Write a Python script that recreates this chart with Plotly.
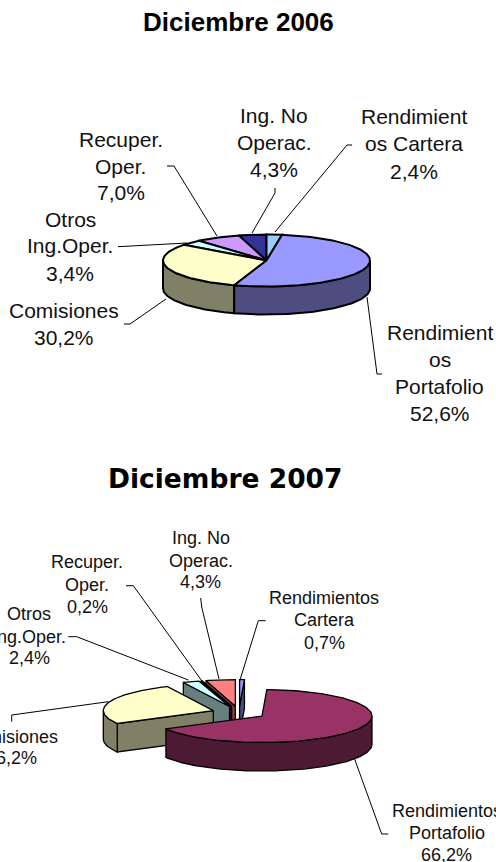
import math
import plotly.graph_objects as go

# ---- data (clockwise from 12 o'clock) ----
slices = ["Rendimientos Cartera", "Rendimientos Portafolio", "Comisiones",
          "Otros Ing.Oper.", "Recuper. Oper.", "Ing. No Operac."]
values_2006 = [2.4, 52.6, 30.2, 3.4, 7.0, 4.3]
values_2007 = [0.7, 66.2, 26.2, 2.4, 0.2, 4.3]
names_2006 = [["Rendimient", "os Cartera"], ["Rendimient", "os", "Portafolio"], ["Comisiones"],
              ["Otros", "Ing.Oper."], ["Recuper.", "Oper."], ["Ing. No", "Operac."]]
names_2007 = [["Rendimientos", "Cartera"], ["Rendimientos", "Portafolio"], ["Comisiones"],
              ["Otros", "Ing.Oper."], ["Recuper.", "Oper."], ["Ing. No", "Operac."]]
tops_2006 = ["#99CCFF", "#9999FF", "#FFFFCC", "#CCFFFF", "#CC99FF", "#333399"]
walls_2006 = ["#4D6680", "#4D4D80", "#808066", "#668080", "#664D80", "#1A1A4D"]
tops_2007 = ["#9999FF", "#993366", "#FFFFCC", "#CCFFFF", "#660066", "#FF8080"]
walls_2007 = ["#4D4D80", "#4D1A33", "#808066", "#668080", "#330033", "#804040"]
draw_order = [5, 4, 3, 0, 2, 1]

# ---- layout constants ----
W, H = 496, 862
TEXT = "#111111"
SANS = "Liberation Sans, Arial, sans-serif"
geom_2006 = dict(cx=266.5, cy=260.5, rx=103.5, ry=26.0, depth=28.0, explode=0.0, lw=2.0)
geom_2007 = dict(cx=239.0, cy=712.6, rx=110.0, ry=26.5, depth=28.5, explode=27.0, lw=1.3)

label_pos_2006 = [(414, [116.7, 143.7, 171.7]), (439.7, [332.7, 359.5, 386.7, 413.5]), (64.3, [310, 337]),
                  (70.3, [219, 245.7, 273]), (120.7, [139, 166, 192.7]), (274, [115, 142, 169])]
label_pos_2007 = [(324, [598, 620, 643]), (446.7, [811, 833, 855]), (11.3, [736.7, 758]),
                  (29.3, [614, 636.7, 658]), (87, [562, 585, 607]), (200.7, [538, 560.7, 582])]
leaders_2006 = [[(352, 145), (347, 145), (275, 232)], [(382, 374), (377, 374), (367, 297)],
                [(124, 324), (130, 324), (166, 299)], [(118, 246.7), (187, 243)],
                [(167, 166), (174, 166), (217, 236)], [(275, 188), (275, 193), (252, 233)]]
leaders_2007 = [[(265.7, 620.7), (258.3, 620.7), (240, 680)], [(388.3, 834), (381.7, 834), (354, 757.3)],
                [(11.7, 721.7), (11.7, 715), (108.3, 701.7)], [(68.3, 636.7), (76.7, 636.7), (188.3, 680)],
                [(126, 585.7), (133.3, 585.7), (201.7, 680.7)], [(200.7, 598), (201.7, 607), (219, 679)]]

fig = go.Figure()


def poly(pts, fill, lw):
    fig.add_trace(go.Scatter(x=[p[0] for p in pts], y=[p[1] for p in pts], mode="lines",
                             fill="toself", fillcolor=fill, line=dict(color="black", width=lw),
                             hoverinfo="skip", showlegend=False))


def wall(edge_pts, g, color):
    """Extrude the runs of an edge chain that face the viewer (moving leftwards on screen)."""
    run = []
    runs = []
    for a, b in zip(edge_pts, edge_pts[1:]):
        if b[0] - a[0] < -1e-9:
            if not run:
                run = [a]
            run.append(b)
        else:
            if run:
                runs.append(run)
            run = []
    if run:
        runs.append(run)
    for r in runs:
        pts = r + [(p[0], p[1] + g["depth"]) for p in reversed(r)] + [r[0]]
        poly(pts, color, g["lw"])


def pie(values, tops, walls, g):
    total = sum(values)
    start = 0.0
    spans = []
    for v in values:
        a0 = start / total * 2 * math.pi
        start += v
        a1 = start / total * 2 * math.pi
        spans.append((a0, a1))
    k = g["ry"] / g["rx"]
    for i in draw_order:
        a0, a1 = spans[i]
        mid = (a0 + a1) / 2
        ax = g["cx"] + g["explode"] * math.sin(mid)
        ay = g["cy"] - g["explode"] * math.cos(mid) * k
        n = max(2, int((a1 - a0) / math.radians(1.5)))
        arc = [(ax + g["rx"] * math.sin(a0 + (a1 - a0) * j / n),
                ay - g["ry"] * math.cos(a0 + (a1 - a0) * j / n)) for j in range(n + 1)]
        apex = (ax, ay)
        wall([apex, arc[0]], g, walls[i])
        wall(arc, g, walls[i])
        wall([arc[-1], apex], g, walls[i])
        poly([apex] + arc + [apex], tops[i], g["lw"])


def labels(values, names, pos, size):
    for v, nm, (x, ys) in zip(values, names, pos):
        lines = nm + [f"{v:.1f}".replace(".", ",") + "%"]
        for line, y in zip(lines, ys):
            fig.add_annotation(x=x, y=y, xref="x", yref="y", text=line, showarrow=False,
                               xanchor="center", yanchor="middle",
                               font=dict(family=SANS, size=size, color=TEXT))


def leaders(chains):
    for c in chains:
        fig.add_trace(go.Scatter(x=[p[0] for p in c], y=[p[1] for p in c], mode="lines",
                                 line=dict(color="black", width=1), hoverinfo="skip", showlegend=False))


leaders(leaders_2006)
leaders(leaders_2007)
pie(values_2006, tops_2006, walls_2006, geom_2006)
pie(values_2007, tops_2007, walls_2007, geom_2007)
labels(values_2006, names_2006, label_pos_2006, 21)
labels(values_2007, names_2007, label_pos_2007, 18)

fig.add_annotation(x=238.5, y=22, xref="x", yref="y", text="<b>Diciembre 2006</b>", showarrow=False,
                   font=dict(family=SANS, size=26, color="black"))
fig.add_annotation(x=225, y=478, xref="x", yref="y", text="<b>Diciembre 2007</b>", showarrow=False,
                   font=dict(family="DejaVu Sans", size=26.5, color="black"))

fig.update_layout(width=W, height=H, margin=dict(l=0, r=0, t=0, b=0), autosize=False,
                  paper_bgcolor="white", plot_bgcolor="white", showlegend=False,
                  xaxis=dict(range=[0, W], visible=False, fixedrange=True),
                  yaxis=dict(range=[H, 0], visible=False, fixedrange=True))
fig.write_html("out.html", config=dict(displayModeBar=False),
               post_script="document.body.style.margin='0';document.documentElement.style.overflow='hidden';")
